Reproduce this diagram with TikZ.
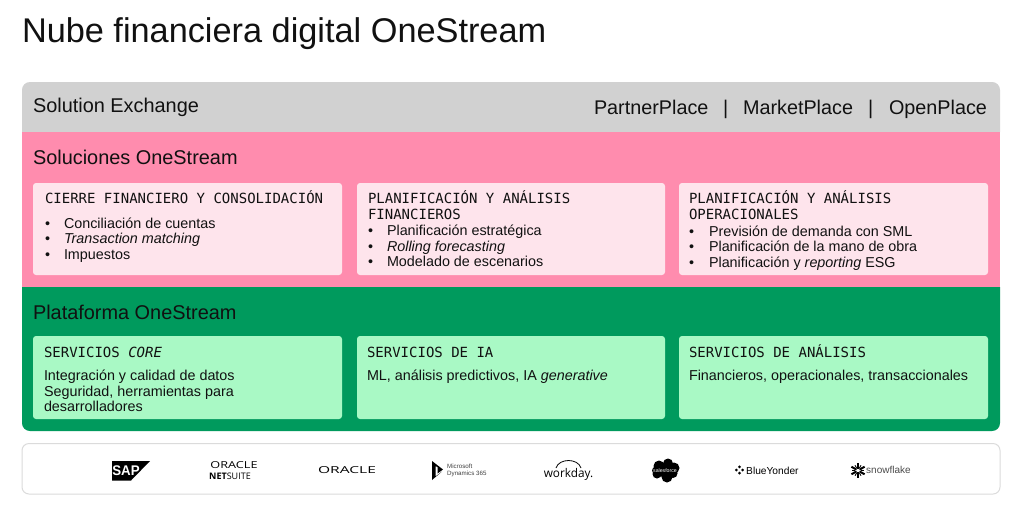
\documentclass[tikz,border=0pt]{standalone}
\usepackage{graphicx}
\usepackage{fontspec}
\setmainfont{Liberation Sans}
\newfontfamily\monof{DejaVu Sans Mono}
\newfontfamily\logof{Open Sans}
\definecolor{bandgray}{HTML}{D1D1D1}
\definecolor{bandpink}{HTML}{FF8CAE}
\definecolor{bandgreen}{HTML}{009A5D}
\definecolor{cardpink}{HTML}{FEE4EC}
\definecolor{cardgreen}{HTML}{A9F9C5}
\definecolor{ink}{HTML}{111111}
\tikzset{
  txt/.style={anchor=base west,inner sep=0pt,outer sep=0pt,text=ink,font=\fontsize{14.35}{15}\selectfont},
  headtxt/.style={txt,font=\fontsize{14}{15}\selectfont\monof},
  bandtxt/.style={txt,font=\fontsize{19.9}{22}\selectfont},
  topright/.style={txt,font=\fontsize{19.8}{24}\selectfont},
  pinkcard/.style={fill=cardpink,rounded corners=3pt,draw=none},
  greencard/.style={fill=cardgreen,rounded corners=3pt,draw=none},
  logotxt/.style={anchor=center,inner sep=0pt,text=black},
}
\begin{document}
\begin{tikzpicture}[x=1pt,y=-1pt]
\useasboundingbox (0,0) rectangle (1024,523);
\fill[white] (0,0) rectangle (1024,523);
\node[txt,font=\fontsize{34.3}{36}\selectfont] (title) at (22,42) {Nube financiera digital OneStream};
% bands
\fill[bandgray] (22,132) -- (22,90) .. controls (22,85.5) and (25.5,82) .. (30,82) -- (992,82) .. controls (996.5,82) and (1000,85.5) .. (1000,90) -- (1000,132) -- cycle;
\fill[bandpink] (22,132) rectangle (1000,287);
\fill[bandgreen] (22,287) -- (22,423) .. controls (22,427.5) and (25.5,431) .. (30,431) -- (992,431) .. controls (996.5,431) and (1000,427.5) .. (1000,423) -- (1000,287) -- cycle;
% band labels
\node[bandtxt] (se) at (33,112) {Solution Exchange};
\node[topright] (partner) at (594,114) {PartnerPlace};
\node[topright] (sep1) at (723,114) {|};
\node[topright] (market) at (743,114) {MarketPlace};
\node[topright] (sep2) at (868,114) {|};
\node[topright] (open) at (889,114) {OpenPlace};
\node[bandtxt] (sol) at (33,164) {Soluciones OneStream};
\node[bandtxt] (pla) at (33,319) {Plataforma OneStream};
% pink cards
\fill[pinkcard] (33,183) rectangle (342,275);
\fill[pinkcard] (357,183) rectangle (665,275);
\fill[pinkcard] (679,183) rectangle (988,275);
\node[headtxt] (h1) at (45,203) {CIERRE FINANCIERO Y CONSOLIDACIÓN};
\node[txt] (b1a) at (45,228) {•}; \node[txt] (t1a) at (64,228) {Conciliación de cuentas};
\node[txt] (b1b) at (45,243) {•}; \node[txt] (t1b) at (64,243) {\itshape Transaction matching};
\node[txt] (b1c) at (45,259) {•}; \node[txt] (t1c) at (64,259) {Impuestos};
\node[headtxt] (h2a) at (368,203) {PLANIFICACIÓN Y ANÁLISIS};
\node[headtxt] (h2b) at (368,219) {FINANCIEROS};
\node[txt] (b2a) at (368,235) {•}; \node[txt] (t2a) at (387,235) {Planificación estratégica};
\node[txt] (b2b) at (368,251) {•}; \node[txt] (t2b) at (387,251) {\itshape Rolling forecasting};
\node[txt] (b2c) at (368,266) {•}; \node[txt] (t2c) at (387,266) {Modelado de escenarios};
\node[headtxt] (h3a) at (689,203) {PLANIFICACIÓN Y ANÁLISIS};
\node[headtxt] (h3b) at (689,219) {OPERACIONALES};
\node[txt] (b3a) at (689,236) {•}; \node[txt] (t3a) at (709,236) {Previsión de demanda con SML};
\node[txt] (b3b) at (689,251) {•}; \node[txt] (t3b) at (709,251) {Planificación de la mano de obra};
\node[txt] (b3c) at (689,267) {•}; \node[txt] (t3c) at (709,267) {Planificación y \itshape reporting\upshape{} ESG};
% green cards
\fill[greencard] (33,336) rectangle (342,419);
\fill[greencard] (357,336) rectangle (665,419);
\fill[greencard] (679,336) rectangle (988,419);
\node[headtxt] (g1) at (44,357) {SERVICIOS \itshape CORE};
\node[txt] (g1a) at (44,380) {Integración y calidad de datos};
\node[txt] (g1b) at (44,396) {Seguridad, herramientas para};
\node[txt] (g1c) at (44,411) {desarrolladores};
\node[headtxt] (g2) at (367,357) {SERVICIOS DE IA};
\node[txt] (g2a) at (367,380) {ML, análisis predictivos, IA \itshape generative};
\node[headtxt] (g3) at (689,357) {SERVICIOS DE ANÁLISIS};
\node[txt] (g3a) at (689,380) {Financieros, operacionales, transaccionales};
% logo strip
\draw[draw=black!14,line width=1pt,fill=white,rounded corners=7pt] (22,443.5) rectangle (1000,494);
% SAP
\fill[black] (112,461) -- (150,461) -- (131,480.5) -- (112,480.5) -- cycle;
\node[logotxt,text=white,font=\fontsize{14}{14}\bfseries\selectfont] (sap) at (126,471) {\scalebox{0.95}[1]{SAP}};
% Oracle NetSuite
\node[logotxt,font=\fontsize{9.6}{10}\selectfont\logof] (ons1) at (234,465.5) {\scalebox{1.32}[1]{ORACLE}};
\node[logotxt,font=\fontsize{9}{9}\selectfont\logof] (ons2) at (230,476) {\textbf{NET}SUITE};
% Oracle
\node[logotxt,font=\fontsize{9.6}{10}\selectfont\logof] (oracle) at (347,470.5) {\scalebox{1.62}[1]{ORACLE}};
% Dynamics
\fill[black] (432,461) -- (443,469.5) -- (437.5,473.5) -- (437.5,467) -- (435.5,466) -- (435.5,476.5) -- (442,471.5) -- (432,480) -- cycle;
\node[logotxt,anchor=west,font=\fontsize{6.2}{7.5}\selectfont,text=black!75,align=left] (ms) at (447,470.5) {Microsoft\\Dynamics 365};
% Workday
\draw[black,line width=0.8pt] (556,468) .. controls (559,458) and (578,458) .. (581,468);
\node[logotxt,font=\fontsize{12}{12}\selectfont\logof] (wd) at (568.5,474) {\scalebox{0.98}[1]{workday.}};
% Salesforce
\fill[black] (665,470.5) ellipse[x radius=13,y radius=6.5];
\fill[black] (659,466) circle[radius=5.5];
\fill[black] (668,463.5) circle[radius=5];
\fill[black] (674,468) circle[radius=5.5];
\fill[black] (667,477) circle[radius=5.5];
\fill[black] (657,474) circle[radius=4.5];
\fill[black] (673,473.5) circle[radius=4.5];
\node[logotxt,text=white,font=\fontsize{5.2}{5}\selectfont] (sf) at (665,470.5) {salesforce};
% Blue Yonder
\foreach \dx/\dy in {0/-3.2,-3.2/0,3.2/0,0/3.2}{\fill[black] (739.5+\dx-1.5,470+\dy) -- (739.5+\dx,470+\dy-1.5) -- (739.5+\dx+1.5,470+\dy) -- (739.5+\dx,470+\dy+1.5) -- cycle;}
\node[logotxt,anchor=west,font=\fontsize{10.2}{11}\selectfont] (by) at (746,470.5) {BlueYonder};
% Snowflake
\foreach \a in {30,90,...,330}{\draw[black,line width=2pt] (858,470.5) ++(\a:1.8) -- ++(\a:5.8);}
\foreach \a in {0,60,...,300}{\draw[black,line width=0.9pt] (858,470.5) ++(\a:3) -- ++(\a:3);}
\node[logotxt,anchor=west,font=\fontsize{10}{11}\selectfont,text=black!70] (snow) at (866,470) {snowflake};
\end{tikzpicture}
\end{document}
